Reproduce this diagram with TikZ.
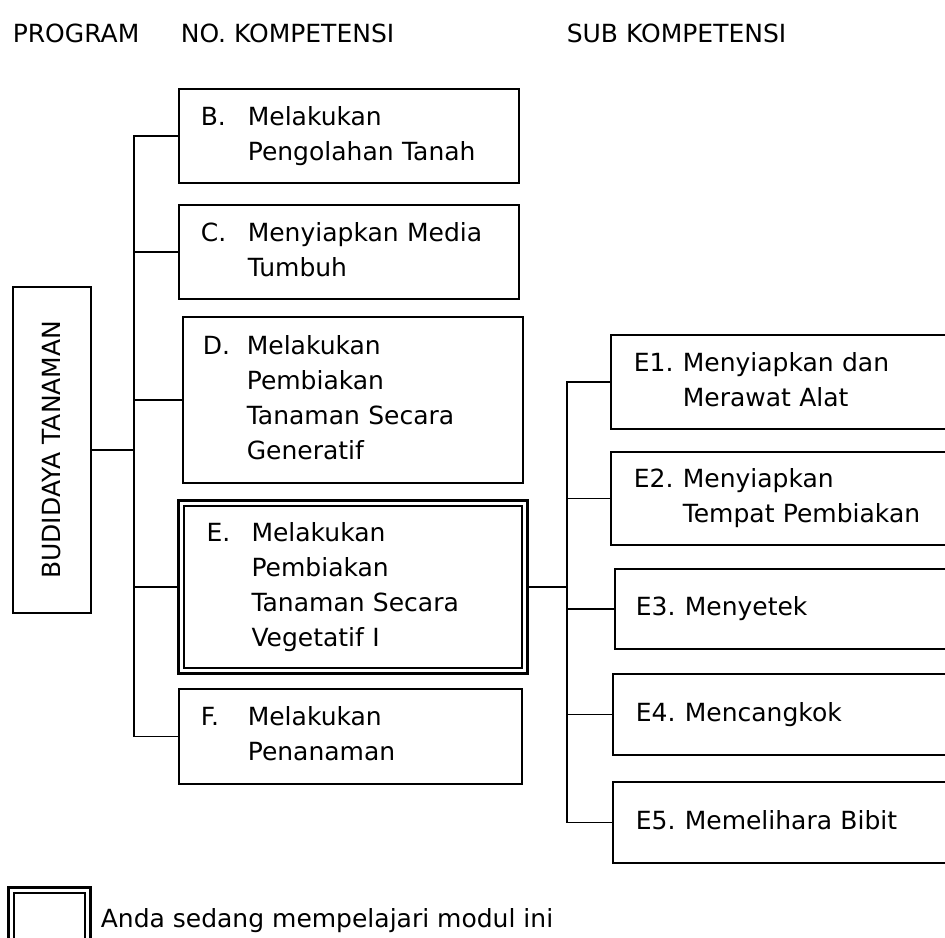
\documentclass[tikz,border=0pt]{standalone}
\usepackage{fontspec}
\setmainfont{DejaVu Sans}
\usepackage{tikz}
\usetikzlibrary{positioning,calc}
\newcommand{\komp}[3][47pt]{\makebox[#1][l]{#2}\begin{tabular}[t]{@{}l@{}}#3\end{tabular}}

\begin{document}
\begin{tikzpicture}[x=1pt,y=-1pt,line width=1.6pt,
  txt/.style={font=\fontsize{25}{35}\selectfont, inner sep=0pt},
  box/.style={draw, txt, anchor=north west, align=left, inner ysep=0pt, inner xsep=22pt},
  dblbox/.style={box, line width=3pt,
    path picture={\draw[line width=1.5pt]
      ([shift={(5.5pt,-5.5pt)}]path picture bounding box.north west) rectangle
      ([shift={(-5.5pt,5.5pt)}]path picture bounding box.south east);}},
  link/.style={line width=1.6pt, line cap=rect}]
  \useasboundingbox (0,0) rectangle (945,937);
  \clip (0,0) rectangle (945,937);

  % judul kolom
  \node[txt, anchor=base west] (hprog) at (12,42) {PROGRAM};
  \node[txt, anchor=base west] (hno) at (180,42) {NO. KOMPETENSI};
  \node[txt, anchor=base west] (hsub) at (566,42) {SUB KOMPETENSI};

  % program
  \node[box, inner xsep=0pt, minimum width=78, minimum height=326] (prog) at (12,286)
    {\rotatebox{90}{BUDIDAYA TANAMAN}};

  % kompetensi
  \node[box, text width=296, minimum height=94] (B) at (178,88)
    {\komp{B.}{Melakukan\\Pengolahan Tanah}};
  \node[box, text width=296, minimum height=94] (C) at (178,204)
    {\komp{C.}{Menyiapkan Media\\Tumbuh}};
  \node[box, inner xsep=20pt, text width=300, minimum height=166] (D) at (182,316)
    {\komp[44pt]{D.}{Melakukan\\Pembiakan\\Tanaman Secara\\Generatif}};
  \node[dblbox, inner xsep=28pt, text width=293, minimum height=173] (E) at (177,499)
    {\komp[45pt]{E.}{Melakukan\\Pembiakan\\Tanaman Secara\\Vegetatif I}};
  \node[box, text width=299, minimum height=95] (F) at (178,688)
    {\komp{F.}{Melakukan\\Penanaman}};

  % sub kompetensi
  \node[box, inner xsep=23pt, text width=330, minimum height=94] (E1) at (610,334)
    {\komp[49pt]{E1.}{Menyiapkan dan\\Merawat Alat}};
  \node[box, inner xsep=23pt, text width=330, minimum height=93] (E2) at (610,451)
    {\komp[49pt]{E2.}{Menyiapkan\\Tempat Pembiakan}};
  \node[box, inner xsep=21pt, text width=330, minimum height=80] (E3) at (614,568)
    {\komp[49pt]{E3.}{Menyetek}};
  \node[box, inner xsep=23pt, text width=330, minimum height=81] (E4) at (612,673)
    {\komp[49pt]{E4.}{Mencangkok}};
  \node[box, inner xsep=23pt, text width=330, minimum height=81] (E5) at (612,781)
    {\komp[49pt]{E5.}{Memelihara Bibit}};

  % garis penghubung
  \coordinate (trunkL) at (134,0);
  \coordinate (trunkR) at (567,0);
  \draw[link] (prog.east) -- (prog.east -| trunkL);
  \draw[link] (B.west -| trunkL) -- (F.west -| trunkL);
  \foreach \n in {B,C,D,E,F}
    \draw[link] (\n.west) -- (\n.west -| trunkL);
  \draw[link] (E.east) -- (E.east -| trunkR);
  \draw[link] (E1.west -| trunkR) -- (E5.west -| trunkR);
  \foreach \n in {E1,E2,E3,E4,E5}
    \draw[link] (\n.west) -- (\n.west -| trunkR);

  % keterangan
  \node[dblbox, minimum width=82, minimum height=70] (leg) at (7,886) {};
  \node[txt, anchor=base west] (legtext) at (100,927) {Anda sedang mempelajari modul ini};
\end{tikzpicture}
\end{document}
